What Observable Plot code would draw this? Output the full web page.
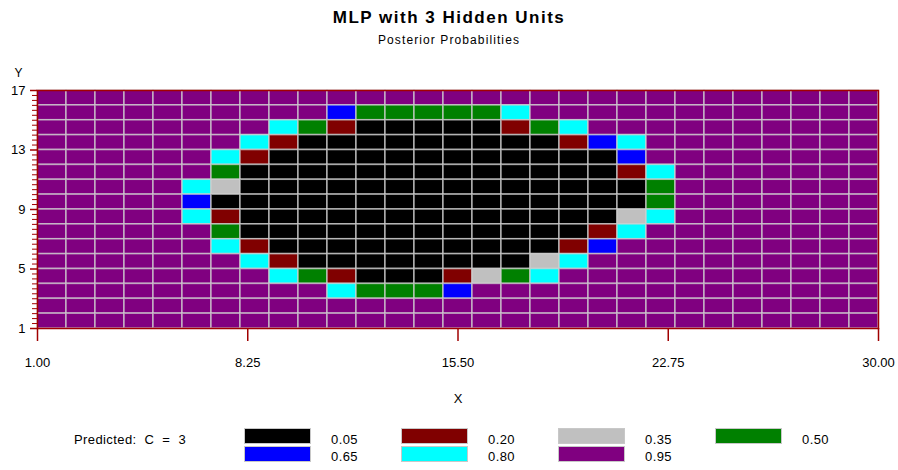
<!DOCTYPE html>
<html><head><meta charset="utf-8">
<script src="https://cdn.jsdelivr.net/npm/d3@7"></script>
<script src="https://cdn.jsdelivr.net/npm/@observablehq/plot@0.6"></script>
<style>
body{margin:0;background:#fff;font-family:"Liberation Sans",Arial,sans-serif;color:#000;}
#wrap{position:relative;width:898px;height:470px;overflow:hidden;}
#head{position:relative;height:55px;}
.title{position:absolute;left:0;width:898px;text-align:center;white-space:pre;}
#t1{top:9px;font-size:17px;line-height:18px;font-weight:bold;letter-spacing:1.5px;}
#t2{top:33px;font-size:12px;line-height:14px;letter-spacing:1.1px;}
#legend{position:relative;height:60px;font-size:13px;}
.sw{position:absolute;width:65px;height:14px;border:1px solid #c8c8c8;}
.lb{position:absolute;line-height:16px;letter-spacing:0.4px;}
</style></head><body>
<div id="wrap">
  <div id="head"><div class="title" id="t1">MLP with 3 Hidden Units</div><div class="title" id="t2">Posterior Probabilities</div></div>
  <div id="chart"></div>
  <div id="legend"></div>
</div>
<script>
// posterior probability levels and their colours
const levels = [0.05, 0.20, 0.35, 0.50, 0.65, 0.80, 0.95];
const levelColors = ["#000000", "#800000", "#c0c0c0", "#008000", "#0000ff", "#00ffff", "#800080"];
const levelLabels = ["0.05", "0.20", "0.35", "0.50", "0.65", "0.80", "0.95"];
const xTicks = [1, 8.25, 15.5, 22.75, 30];
const yTicks = [1, 5, 9, 13, 17];
const xStart = 1;   // X of first column's left edge
const yTop = 17;    // Y of first row's top edge
// one string per grid row (top row first); each digit indexes levels[]
const gridRows = [
  "66666666666666666666666666666",
  "66666666664333335666666666666",
  "66666666531000001356666666666",
  "66666665100000000014566666666",
  "66666651000000000000466666666",
  "66666630000000000000156666666",
  "66666520000000000000036666666",
  "66666400000000000000036666666",
  "66666510000000000000256666666",
  "66666630000000000001566666666",
  "66666651000000000014666666666",
  "66666665100000000256666666666",
  "66666666531000123566666666666",
  "66666666665333466666666666666",
  "66666666666666666666666666666",
  "66666666666666666666666666666"
];

const cells = [];
gridRows.forEach((row, r) => {
  [...row].forEach((ch, c) => {
    cells.push({x1: xStart + c, x2: xStart + c + 1, y1: yTop - r - 1, y2: yTop - r, p: levels[+ch]});
  });
});

const axisColor = "#a00000";
const minorY = d3.range(1, 17.001, 1/3).filter((v, i) => i % 12 !== 0);

const chart = Plot.plot({
  width: 898,
  height: 355,
  marginTop: 35,
  marginBottom: 82,
  marginLeft: 37,
  marginRight: 20,
  style: {fontFamily: "'Liberation Sans', Arial, sans-serif", fontSize: "13px", color: "#000", background: "#fff"},
  x: {domain: [1, 30]},
  y: {domain: [1, 17]},
  color: {type: "ordinal", domain: levels, range: levelColors},
  marks: [
    Plot.rect(cells, {x1: "x1", x2: "x2", y1: "y1", y2: "y2", fill: "p", stroke: "#d0d0d0", strokeOpacity: 0.72, strokeWidth: 1.6}),
    Plot.frame({stroke: axisColor, strokeWidth: 1.5}),
    Plot.axisX({ticks: xTicks, tickFormat: d3.format(".2f"), tickSize: 13, tickPadding: 16, stroke: axisColor, strokeWidth: 1.5, label: null, fontSize: 13}),
    Plot.axisY({ticks: yTicks, tickFormat: d3.format("d"), tickSize: 7, tickPadding: 5, stroke: axisColor, strokeWidth: 1.5, label: null, fontSize: 13}),
    Plot.axisY({ticks: minorY, tickFormat: () => "", tickSize: 5, stroke: axisColor, strokeWidth: 1, label: null}),
    Plot.text(["Y"], {frameAnchor: "top-left", dx: -19, dy: -22, fontSize: 12, textAnchor: "middle"}),
    Plot.text(["X"], {frameAnchor: "bottom", dy: 74, fontSize: 13})
  ]
});
document.getElementById("chart").appendChild(chart);

// legend: 2 rows x 4 columns, row-major
const legend = document.getElementById("legend");
const lead = document.createElement("div");
lead.className = "lb";
lead.style.left = "74px"; lead.style.top = "22px";
lead.style.whiteSpace = "pre";
lead.textContent = "Predicted:  C  =  3";
legend.appendChild(lead);
levels.forEach((v, i) => {
  const col = i % 4, row = Math.floor(i / 4);
  const sw = document.createElement("div");
  sw.className = "sw";
  sw.style.left = (244 + col * 157) + "px";
  sw.style.top = (18 + row * 18) + "px";
  sw.style.background = levelColors[i];
  legend.appendChild(sw);
  const lb = document.createElement("div");
  lb.className = "lb";
  lb.style.left = (331 + col * 157) + "px";
  lb.style.top = (22 + row * 17) + "px";
  lb.textContent = levelLabels[i];
  legend.appendChild(lb);
});
</script>
</body></html>
